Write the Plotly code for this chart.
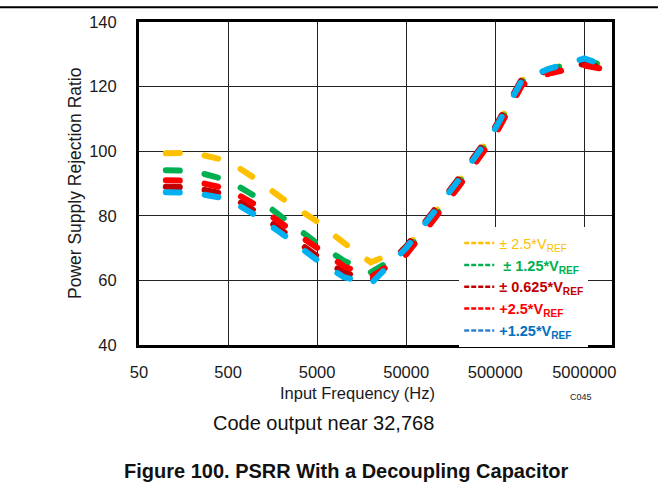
import plotly.graph_objects as go
import math

# ---------------- data ----------------
freqs = [100, 200, 500, 1000, 2000, 5000, 10000, 20000, 50000, 100000,
         200000, 500000, 1000000, 2000000, 5000000, 10000000]

psrr_pm_2p5 = [99.4, 99.5, 97.0, 91.6, 85.5, 78.2, 71.6, 65.6, 70.0, 80.0,
               91.0, 106.5, 122.0, 125.5, 128.0, 126.0]
psrr_pm_1p25 = [94.1, 93.9, 91.0, 86.1, 79.7, 71.5, 66.1, 62.5, 69.0, 79.0,
                90.5, 106.0, 121.5, 125.3, 128.2, 126.0]
psrr_pm_0p625 = [89.0, 88.8, 86.5, 81.5, 75.5, 67.5, 62.5, 59.8, 70.5, 81.0,
                 92.0, 107.5, 122.5, 125.0, 127.0, 125.3]
psrr_p_2p5 = [91.0, 90.8, 88.3, 83.5, 77.6, 70.4, 64.4, 61.0, 68.0, 78.5,
              89.5, 105.0, 120.5, 124.0, 126.5, 125.0]
psrr_p_1p25 = [87.3, 87.2, 85.2, 80.3, 74.5, 66.3, 61.0, 59.0, 70.0, 80.5,
               91.5, 107.0, 122.0, 125.5, 128.7, 126.0]

series_names = [
    "<span style='color:#FFC000'>± 2.5*V<sub>REF</sub></span>",
    "<span style='color:#00B050'><b> ± 1.25*V<sub>REF</sub></b></span>",
    "<span style='color:#C00000'><b>± 0.625*V<sub>REF</sub></b></span>",
    "<span style='color:#FF0000'><b>+2.5*V<sub>REF</sub></b></span>",
    "<span style='color:#0070C0'><b>+1.25*V<sub>REF</sub></b></span>",
]
series_values = [psrr_pm_2p5, psrr_pm_1p25, psrr_pm_0p625, psrr_p_2p5, psrr_p_1p25]
line_colors = ["#FFC000", "#00B050", "#C00000", "#FF0000", "#00B0F0"]
legend_colors = ["#FFC000", "#00B050", "#C00000", "#FF0000", "#2E7FCC"]

x_tickvals = [50, 500, 5000, 50000, 500000, 5000000]
x_ticktext = ["50", "500", "5000", "50000", "500000", "5000000"]
y_tickvals = [40, 60, 80, 100, 120, 140]

FONT = "Arial, Liberation Sans, sans-serif"

fig = go.Figure()

for vals, col in zip(series_values, line_colors):
    fig.add_trace(go.Scatter(
        x=freqs, y=vals, mode="lines", showlegend=False, hoverinfo="skip",
        line=dict(color=col, width=6, dash="14px,25px"),
    ))

# legend-only traces with thin dashed samples
for name, col in zip(series_names, legend_colors):
    fig.add_trace(go.Scatter(
        x=[10], y=[0], mode="lines", name=name, hoverinfo="skip",
        line=dict(color=col, width=2.5, dash="5px,2px"),
    ))

fig.update_layout(
    width=658, height=496, autosize=False,
    margin=dict(l=139, r=46, t=22, b=151),
    paper_bgcolor="white", plot_bgcolor="white",
    font=dict(family=FONT, size=15, color="#1a1a1a"),
    legend=dict(
        x=0.677, y=0.365, xanchor="left", yanchor="top",
        bgcolor="white", borderwidth=0,
        font=dict(family=FONT, size=14.5),
        tracegroupgap=0, itemwidth=30,
    ),
    showlegend=True,
)

fig.update_xaxes(
    type="log", range=[math.log10(50), 7.01],
    tickvals=x_tickvals, ticktext=x_ticktext,
    showgrid=True, gridcolor="#222222", gridwidth=1,
    showline=True, linecolor="black", linewidth=3, mirror=True,
    ticks="", ticklabelstandoff=10,
    tickfont=dict(family=FONT, size=16.5, color="#1a1a1a"),
    zeroline=False,
)
fig.update_yaxes(
    range=[40, 140], tickvals=y_tickvals,
    showgrid=True, gridcolor="#222222", gridwidth=1,
    showline=True, linecolor="black", linewidth=3, mirror=True,
    ticks="", ticklabelstandoff=16,
    tickfont=dict(family=FONT, size=16.5, color="#1a1a1a"),
    zeroline=False,
)

# top rule across page
fig.add_shape(type="line", xref="paper", yref="paper",
              x0=-0.3, x1=1.12, y0=1.046, y1=1.046,
              line=dict(color="black", width=2))

ann = [
    dict(text="Power Supply Rejection Ratio", x=-0.1353, y=0.5015, textangle=-90,
         font=dict(family=FONT, size=17.5, color="#1a1a1a")),
    dict(text="Input Frequency (Hz)", x=0.461, y=-0.1486,
         font=dict(family=FONT, size=16.5, color="#1a1a1a")),
    dict(text="C045", x=0.9355, y=-0.161,
         font=dict(family=FONT, size=9, color="#1a1a1a")),
    dict(text="Code output near 32,768", x=0.391, y=-0.2415,
         font=dict(family=FONT, size=20, color="#111111")),
    dict(text="<b>Figure 100. PSRR With a Decoupling Capacitor</b>", x=0.4387, y=-0.3901,
         font=dict(family=FONT, size=20, color="#111111")),
]
for a in ann:
    fig.add_annotation(xref="paper", yref="paper", showarrow=False,
                       xanchor="center", yanchor="middle", **a)

fig.write_html(
    "out.html",
    config={"displayModeBar": False},
    post_script=(
        "document.body.style.margin='0';"
        "document.querySelectorAll('.scatterlayer .js-line').forEach(function(p){p.style.strokeLinecap='round';});"
    ),
)
